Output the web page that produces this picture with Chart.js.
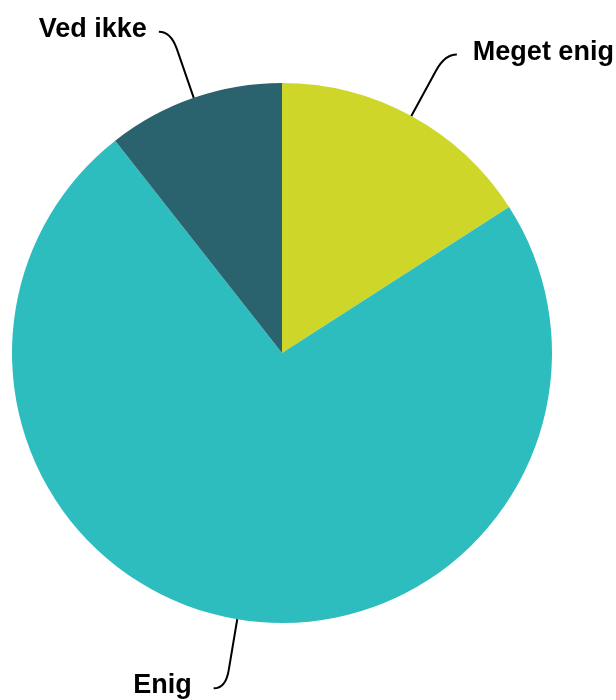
<!DOCTYPE html>
<html>
<head>
<meta charset="utf-8">
<script src="https://cdn.jsdelivr.net/npm/chart.js@4/dist/chart.umd.min.js"></script>
<style>
  html, body { margin: 0; padding: 0; background: #fff; }
  #wrap { width: 616px; height: 700px; }
</style>
</head>
<body>
<div id="wrap"><canvas id="pieChart"></canvas></div>
<script>
// Answers and their share (%)
const labels = ['Meget enig', 'Enig', 'Ved ikke'];
const shares = [15.9, 73.5, 10.6];
const colors = ['#cfd62a', '#2ebdbf', '#2a626e'];

// Draws the curved leader lines and the bold labels outside the pie
const leaderLabels = {
    id: 'leaderLabels',
    afterDatasetsDraw(chart) {
        const ctx = chart.ctx;
        const arcs = chart.getDatasetMeta(0).data;
        const gaps = [16, 22, 12]; // space between line end and text
        ctx.save();
        ctx.strokeStyle = '#000';
        ctx.lineWidth = 2;
        ctx.fillStyle = '#000';
        ctx.font = 'bold 27px "Liberation Sans", Arial, sans-serif';
        arcs.forEach((arc, i) => {
            const mid = (arc.startAngle + arc.endAngle) / 2;
            const r = arc.outerRadius;
            const cos = Math.cos(mid), sin = Math.sin(mid);
            const x0 = arc.x + cos * r, y0 = arc.y + sin * r;
            const x1 = arc.x + cos * (r + 52), y1 = arc.y + sin * (r + 52);
            const xc = arc.x + cos * (r + 70), yc = arc.y + sin * (r + 70);
            const side = cos >= 0 ? 1 : -1;
            const xe = xc + side * 12, ye = yc;
            ctx.beginPath();
            ctx.moveTo(x0, y0);
            ctx.lineTo(x1, y1);
            ctx.quadraticCurveTo(xc, yc, xe, ye);
            ctx.stroke();
            ctx.textAlign = side > 0 ? 'left' : 'right';
            ctx.textBaseline = 'alphabetic';
            ctx.fillText(chart.data.labels[i], xe + side * gaps[i], ye + 5);
        });
        ctx.restore();
    }
};

new Chart(document.getElementById('pieChart'), {
    type: 'pie',
    data: {
        labels: labels,
        datasets: [{
            data: shares,
            backgroundColor: colors,
            borderWidth: 0
        }]
    },
    options: {
        responsive: true,
        maintainAspectRatio: false,
        animation: false,
        layout: { padding: { left: 12, right: 64, top: 83, bottom: 77 } },
        plugins: {
            legend: { display: false },
            tooltip: { enabled: false }
        }
    },
    plugins: [leaderLabels]
});
</script>
</body>
</html>
